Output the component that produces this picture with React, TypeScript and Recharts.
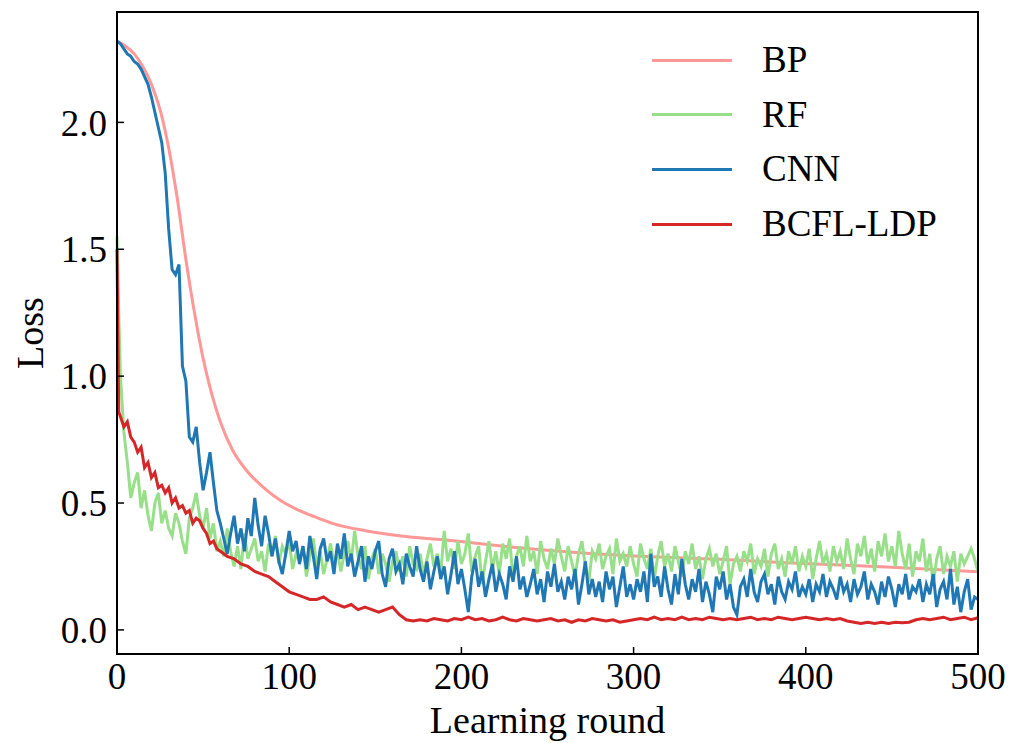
import React from "react";
import { LineChart, Line, XAxis, YAxis } from "recharts";

const FONT = "'Liberation Serif', 'Times New Roman', serif";

// BP is a smooth curve, read at a few rounds
const bpRounds = [0, 5, 10, 15, 20, 25, 30, 35, 40, 45, 50, 55, 60, 67, 75, 87, 95, 106, 115, 125, 145, 165, 190, 230, 290, 350, 395, 450, 500];
const bpLoss = [2.32, 2.3, 2.27, 2.22, 2.15, 2.05, 1.9, 1.7, 1.46, 1.25, 1.07, 0.93, 0.82, 0.71, 0.63, 0.55, 0.51, 0.47, 0.445, 0.42, 0.39, 0.37, 0.355, 0.326, 0.295, 0.278, 0.263, 0.247, 0.229];

// noisy series: every 2nd round early on, then every 2nd (RF, CNN) or 4th (BCFL-LDP)
const earlyRounds = [0, 1, 2, 4, 6, 8, 10, 12, 14, 16, 18, 20, 22, 24, 26, 28, 30, 32, 34, 36, 38, 40, 42, 44, 46, 48, 50, 52, 54, 56, 58];
const fineRounds = [...earlyRounds, ...Array.from({ length: 221 }, (_, i) => 60 + i * 2)];
const coarseRounds = [...earlyRounds, ...Array.from({ length: 111 }, (_, i) => 60 + i * 4)];

const rfLoss = [
  1.55, 1.25, 1.0, 0.78, 0.66, 0.52, 0.58, 0.62, 0.48, 0.55, 0.45, 0.39, 0.5, 0.54, 0.42, 0.47,
  0.4, 0.37, 0.46, 0.42, 0.35, 0.3, 0.44, 0.48, 0.54, 0.45, 0.4, 0.48, 0.36, 0.42, 0.31,
  0.35, 0.29, 0.4, 0.31, 0.25, 0.33, 0.24, 0.38, 0.28, 0.32,
  0.36, 0.27, 0.31, 0.23, 0.34, 0.29, 0.37, 0.26, 0.33, 0.3,
  0.35, 0.24, 0.3, 0.27, 0.33, 0.21, 0.29, 0.36, 0.25, 0.31,
  0.22, 0.28, 0.34, 0.26, 0.31, 0.23, 0.3, 0.35, 0.27, 0.39,
  0.29, 0.24, 0.33, 0.2, 0.28, 0.32, 0.22, 0.3, 0.26, 0.19,
  0.27, 0.31, 0.23, 0.29, 0.21, 0.33, 0.26, 0.24, 0.3, 0.22,
  0.28, 0.34, 0.25, 0.3, 0.22, 0.39, 0.27, 0.32, 0.24, 0.35,
  0.26, 0.3, 0.38, 0.23, 0.29, 0.33, 0.18, 0.27, 0.35, 0.24,
  0.31, 0.22, 0.34, 0.28, 0.36, 0.2, 0.29, 0.33, 0.25, 0.37,
  0.27, 0.31, 0.22, 0.35, 0.28, 0.24, 0.32, 0.26, 0.36, 0.29,
  0.23, 0.33, 0.27, 0.21, 0.3, 0.35, 0.25, 0.19, 0.31, 0.28,
  0.34, 0.24, 0.29, 0.32, 0.22, 0.36, 0.27, 0.3, 0.25, 0.33,
  0.26, 0.21, 0.34, 0.28, 0.24, 0.32, 0.2, 0.29, 0.35, 0.25,
  0.3, 0.23, 0.33, 0.27, 0.21, 0.31, 0.26, 0.34, 0.24, 0.29,
  0.2, 0.28, 0.32, 0.25, 0.3, 0.22, 0.27, 0.33, 0.18, 0.26,
  0.29, 0.23, 0.31, 0.27, 0.34, 0.22, 0.28, 0.25, 0.32, 0.21,
  0.3, 0.34, 0.24, 0.28, 0.21, 0.31, 0.26, 0.33, 0.23, 0.29,
  0.25, 0.32, 0.2, 0.28, 0.35, 0.26, 0.3, 0.23, 0.33, 0.27,
  0.31, 0.24, 0.36, 0.28, 0.22, 0.34, 0.29, 0.37, 0.26, 0.32,
  0.23, 0.35, 0.29, 0.38, 0.27, 0.33, 0.25, 0.39, 0.3, 0.24,
  0.34, 0.21, 0.31, 0.27, 0.36, 0.23, 0.3, 0.18, 0.28, 0.33,
  0.22, 0.29, 0.25, 0.31, 0.19, 0.3, 0.26, 0.29, 0.32, 0.28,
  0.23,
];

const cnnLoss = [
  2.32, 2.315, 2.31, 2.29, 2.27, 2.26, 2.24, 2.23, 2.21, 2.18, 2.15, 2.1, 2.04, 1.98, 1.92, 1.8,
  1.58, 1.42, 1.4, 1.44, 1.04, 0.98, 0.76, 0.74, 0.8, 0.66, 0.55, 0.62, 0.7, 0.58, 0.47,
  0.42, 0.36, 0.3, 0.38, 0.45, 0.34, 0.4, 0.31, 0.44, 0.37,
  0.52, 0.41, 0.33, 0.45, 0.38, 0.29, 0.36, 0.27, 0.22, 0.3,
  0.39, 0.31, 0.35, 0.26, 0.33, 0.24, 0.37, 0.29, 0.2, 0.32,
  0.36, 0.27, 0.31, 0.22, 0.34, 0.28, 0.38, 0.25, 0.3, 0.21,
  0.27, 0.33, 0.19, 0.29, 0.24, 0.31, 0.35, 0.22, 0.17, 0.28,
  0.32, 0.23, 0.26, 0.18, 0.3, 0.25, 0.21, 0.33, 0.24, 0.19,
  0.27, 0.16, 0.23, 0.29, 0.2, 0.25, 0.14, 0.22, 0.31, 0.18,
  0.24, 0.16, 0.07, 0.21, 0.28, 0.17, 0.23, 0.13, 0.2, 0.26,
  0.15, 0.22, 0.18, 0.12, 0.25, 0.19, 0.29, 0.16, 0.21, 0.13,
  0.18, 0.24, 0.14, 0.2, 0.11, 0.23, 0.17, 0.26, 0.15, 0.19,
  0.12, 0.21, 0.16, 0.24, 0.1, 0.18, 0.27, 0.14, 0.2, 0.13,
  0.19, 0.11, 0.23, 0.16, 0.21, 0.09, 0.17, 0.25, 0.13, 0.18,
  0.12, 0.2, 0.15, 0.23, 0.11, 0.3, 0.17, 0.21, 0.13, 0.25,
  0.16, 0.1, 0.22, 0.14, 0.28, 0.18, 0.12, 0.2, 0.15, 0.24,
  0.11, 0.19, 0.14, 0.07, 0.21, 0.16, 0.23, 0.12, 0.18, 0.09,
  0.06, 0.17, 0.2, 0.13, 0.24, 0.15, 0.11, 0.19, 0.22, 0.14,
  0.18, 0.1, 0.21, 0.15, 0.12, 0.19, 0.16, 0.23, 0.13, 0.17,
  0.14, 0.2, 0.11, 0.18, 0.15, 0.22, 0.13, 0.19, 0.16, 0.12,
  0.21, 0.15, 0.18, 0.11, 0.2, 0.14, 0.17, 0.23, 0.12, 0.18,
  0.15, 0.1, 0.19, 0.13, 0.21, 0.16, 0.09, 0.18, 0.14, 0.22,
  0.12, 0.17, 0.15, 0.2, 0.11, 0.18, 0.14, 0.22, 0.09, 0.16,
  0.19, 0.12, 0.24, 0.1, 0.17, 0.07, 0.15, 0.2, 0.08, 0.13,
  0.12,
];

const bcflLoss = [
  1.5, 0.86, 0.84, 0.8, 0.82, 0.76, 0.74, 0.7, 0.72, 0.64, 0.66, 0.6, 0.62, 0.56, 0.57, 0.54,
  0.56, 0.5, 0.52, 0.48, 0.49, 0.46, 0.47, 0.42, 0.44, 0.43, 0.4, 0.38, 0.34, 0.35, 0.32,
  0.31, 0.29, 0.28, 0.26, 0.25, 0.23, 0.22, 0.21, 0.19, 0.17,
  0.15, 0.14, 0.13, 0.12, 0.12, 0.13, 0.11, 0.1, 0.09, 0.1,
  0.08, 0.09, 0.08, 0.07, 0.08, 0.09, 0.06, 0.04, 0.035, 0.04,
  0.035, 0.045, 0.04, 0.035, 0.045, 0.04, 0.05, 0.04, 0.045, 0.035,
  0.04, 0.05, 0.04, 0.035, 0.045, 0.04, 0.035, 0.04, 0.045, 0.035,
  0.04, 0.03, 0.04, 0.035, 0.045, 0.04, 0.035, 0.04, 0.03, 0.035,
  0.04, 0.045, 0.04, 0.05, 0.04, 0.045, 0.04, 0.05, 0.04, 0.045,
  0.04, 0.05, 0.045, 0.04, 0.045, 0.04, 0.045, 0.05, 0.04, 0.045,
  0.04, 0.05, 0.045, 0.04, 0.045, 0.05, 0.045, 0.04, 0.045, 0.04,
  0.045, 0.035, 0.03, 0.025, 0.03, 0.025, 0.03, 0.025, 0.03, 0.028,
  0.03, 0.04, 0.045, 0.04, 0.045, 0.05, 0.04, 0.045, 0.05, 0.04,
  0.048,
];

const xTicks = [0, 100, 200, 300, 400, 500];
const yTicks = [0, 0.5, 1, 1.5, 2];

const series = [
  { name: "BP", color: "#ff9896", data: bpRounds.map((round, i) => ({ round, loss: bpLoss[i] })), curve: "monotone" },
  { name: "RF", color: "#98df8a", data: fineRounds.map((round, i) => ({ round, loss: rfLoss[i] })), curve: "linear" },
  { name: "CNN", color: "#1f77b4", data: fineRounds.map((round, i) => ({ round, loss: cnnLoss[i] })), curve: "linear" },
  { name: "BCFL-LDP", color: "#d62728", data: coarseRounds.map((round, i) => ({ round, loss: bcflLoss[i] })), curve: "linear" },
];

const textStyle = { fontFamily: FONT, fontSize: 37, fill: "#000" };

// ticks point into the plot, like matplotlib's direction="in"
const YTick = (props: any) => {
  const { x, y, payload } = props;
  return (
    <g>
      <line x1={x + 10} x2={x + 17} y1={y} y2={y} stroke="#000" strokeWidth={1.5} />
      <text x={x} y={y} dy="0.355em" textAnchor="end" style={textStyle}>
        {Number(payload.value).toFixed(1)}
      </text>
    </g>
  );
};

const XTick = (props: any) => {
  const { x, y, payload } = props;
  return (
    <g>
      <line x1={x} x2={x} y1={y - 9} y2={y - 16} stroke="#000" strokeWidth={1.5} />
      <text x={x} y={y} dy="0.71em" textAnchor="middle" style={textStyle}>
        {payload.value}
      </text>
    </g>
  );
};

export default function App() {
  return (
    <div style={{ position: "absolute", left: 0, top: 0, width: 1021, height: 743, background: "#fff" }}>
      <LineChart width={1021} height={743} margin={{ top: 12, right: 43, left: 17, bottom: 29 }}>
        <XAxis
          dataKey="round"
          type="number"
          domain={[0, 500]}
          ticks={xTicks}
          allowDuplicatedCategory={false}
          height={60}
          tickSize={0}
          tickMargin={9}
          tick={<XTick />}
          tickLine={false}
          axisLine={false}
        />
        <YAxis
          type="number"
          domain={[-0.095, 2.435]}
          allowDataOverflow
          ticks={yTicks}
          width={100}
          tickSize={0}
          tickMargin={10}
          tick={<YTick />}
          tickLine={false}
          axisLine={false}
        />
        {series.map((s) => (
          <Line
            key={s.name}
            data={s.data}
            dataKey="loss"
            name={s.name}
            type={s.curve as "linear" | "monotone"}
            stroke={s.color}
            strokeWidth={3}
            dot={false}
            isAnimationActive={false}
          />
        ))}
      </LineChart>

      {/* axes frame */}
      <div
        style={{
          position: "absolute",
          left: 116,
          top: 11,
          width: 863,
          height: 644,
          border: "2px solid #000",
          boxSizing: "border-box",
          pointerEvents: "none",
        }}
      />

      {/* legend */}
      {series.map((s, i) => (
        <div key={s.name} style={{ position: "absolute", left: 652, top: 60 + i * 54.7 - 25, height: 50, display: "flex", alignItems: "center" }}>
          <div style={{ width: 80, height: 3, background: s.color }} />
          <span style={{ marginLeft: 30, fontFamily: FONT, fontSize: 37, color: "#000", lineHeight: "50px" }}>{s.name}</span>
        </div>
      ))}

      {/* axis titles */}
      <div style={{ position: "absolute", left: 0, width: 1095, top: 698, textAlign: "center", fontFamily: FONT, fontSize: 38, lineHeight: "44px" }}>
        Learning round
      </div>
      <div
        style={{
          position: "absolute",
          left: 30,
          top: 333,
          transform: "translate(-50%, -50%) rotate(-90deg)",
          fontFamily: FONT,
          fontSize: 38,
          whiteSpace: "nowrap",
        }}
      >
        Loss
      </div>
    </div>
  );
}
